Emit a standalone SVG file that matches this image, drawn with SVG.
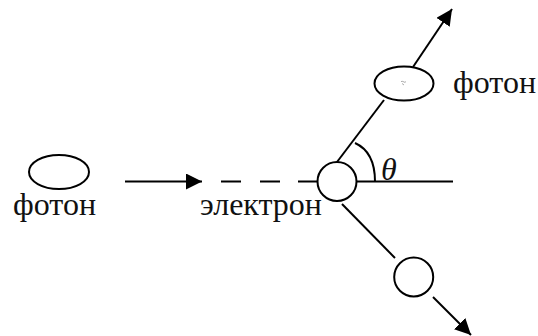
<svg xmlns="http://www.w3.org/2000/svg" width="538" height="336" viewBox="0 0 538 336">
<style>
.s{fill:none;stroke:#000;stroke-width:2}
.n{fill:#fff;stroke:#000;stroke-width:2}
text{font-family:"Liberation Serif","Times New Roman",serif;font-size:32px;fill:#111}
</style>
<defs>
<marker id="a" markerUnits="userSpaceOnUse" markerWidth="18" markerHeight="16" refX="16" refY="8" orient="auto"><path d="M0 0L16 8L0 16Z" fill="#000"/></marker>
</defs>
<rect width="538" height="336" fill="#fff"/>
<g id="connectors">
<path class="s" d="M125 181.5H202" marker-end="url(#a)"/>
<path class="s" d="M221 181.5H241M260 181.5H280M298 181.5H318"/>
<path class="s" d="M356 181.5H453"/>
<path class="s" d="M337 162L384 100"/>
<path class="s" d="M413 67L452 9" marker-end="url(#a)"/>
<path class="s" d="M342 204L395 258"/>
<path class="s" d="M433 297L471 335" marker-end="url(#a)"/>
<path class="s" d="M355 143Q375 152 375 181.5"/>
</g>
<g id="photon-in"><ellipse class="n" cx="59" cy="172" rx="30" ry="17"/><text x="13" y="215">фотон</text></g>
<g id="electron-in"><text x="200" y="215">электрон</text></g>
<g id="electron-center"><circle class="n" cx="337" cy="181.5" r="19.5"/></g>
<g id="photon-out"><ellipse class="n" cx="404" cy="83.5" rx="29.5" ry="17"/><path d="M401 81.5Q403 81 404 82T406 81.5M402 83.5L404 85" fill="none" stroke="#888" stroke-width=".7"/><text x="453" y="93">фотон</text></g>
<g id="electron-out"><circle class="n" cx="413.7" cy="277" r="19.5"/></g>
<g id="angle"><text x="381" y="180" style="font-style:italic">θ</text></g>
</svg>
